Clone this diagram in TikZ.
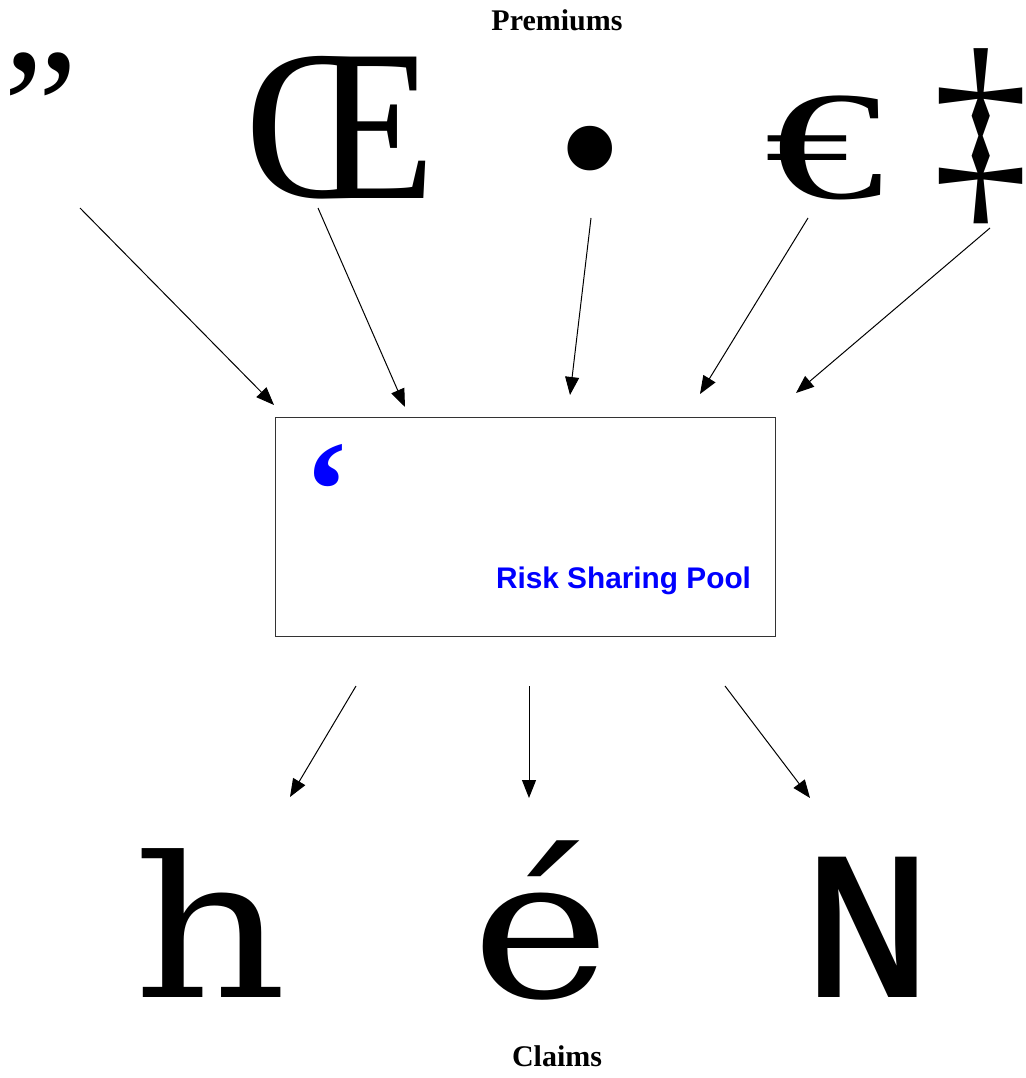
\documentclass[tikz,border=0pt]{standalone}
\usepackage{fontspec}
\setmainfont{Liberation Serif}
\setsansfont{Liberation Sans}
\newfontfamily\widefont{DejaVu Serif}
\usepackage{xcolor}
\definecolor{poolblue}{RGB}{0,0,255}
\usetikzlibrary{arrows.meta}
\tikzset{
  glyph/.style   ={inner sep=0pt,anchor=base,text height=140pt,text depth=25pt,
                   font=\fontsize{216}{216}\selectfont},
  caption/.style ={inner sep=0pt,anchor=base,font=\fontsize{30}{32}\selectfont\bfseries},
  pool/.style    ={draw=black!80,line width=1pt,inner sep=0pt},
  poolnote/.style={inner sep=0pt,anchor=base,text=poolblue},
  flow/.style    ={-{Triangle[length=18pt,width=14pt]},line width=1pt,draw=black},
}
\begin{document}
\begin{tikzpicture}[x=1pt,y=-1pt]
  \useasboundingbox (0,0) rectangle (1025,1078);
  % premiums
  \node[caption] (premiums) at (557,31) {Premiums};
  \node[glyph,font=\fontsize{168}{168}\selectfont,text height=115pt] (ga) at (41,165) {”};
  \node[glyph] (gb) at (341,198) {Œ};
  \node[glyph,font=\fontsize{187}{187}\selectfont,text height=90pt] (gc) at (590,211) {•};
  \node[glyph,font=\fontsize{155}{155}\selectfont,text height=110pt] (gd) at (825,199) {\scalebox{1.55}[1]{€}};
  \node[glyph] (ge) at (981,198) {\scalebox{0.88}[1]{‡}};
  % pool
  \node[pool,minimum width=500pt,minimum height=219pt] (pool) at (525,526.5) {};
  \node[poolnote,font=\fontsize{140}{140}\selectfont\bfseries] (mark) at (327,537) {‘};
  \node[poolnote,font=\sffamily\bfseries\fontsize{29.8}{32}\selectfont] (label) at (623.5,588) {Risk Sharing Pool};
  % claims
  \node[glyph,font=\widefont\fontsize{196}{196}\selectfont] (ca) at (210,997) {\scalebox{1.22}[1]{h}};
  \node[glyph,font=\widefont\fontsize{196}{196}\selectfont] (cb) at (541,997) {\scalebox{1.2}[1]{é}};
  \node[glyph,font=\sffamily\bfseries\fontsize{204}{204}\selectfont] (cc) at (868,997) {\scalebox{0.82}[1]{N}};
  \node[caption] (claims) at (557,1066) {Claims};
  % arrow ends
  \coordinate (ta) at (80,208);   \coordinate (ha) at (274,405);
  \coordinate (tb) at (318,208);  \coordinate (hb) at (405,407);
  \coordinate (tc) at (591,218);  \coordinate (hc) at (570,395);
  \coordinate (td) at (808,218);  \coordinate (hd) at (700,394);
  \coordinate (te) at (990,228);  \coordinate (he) at (796,393);
  \coordinate (tf) at (356,686);  \coordinate (hf) at (290,797);
  \coordinate (tg) at (529,686);  \coordinate (hg) at (529,798);
  \coordinate (th) at (725,686);  \coordinate (hh) at (810,798);
  \foreach \p in {a,b,c,d,e,f,g,h}
    \draw[flow] (t\p) -- (h\p);
\end{tikzpicture}
\end{document}
